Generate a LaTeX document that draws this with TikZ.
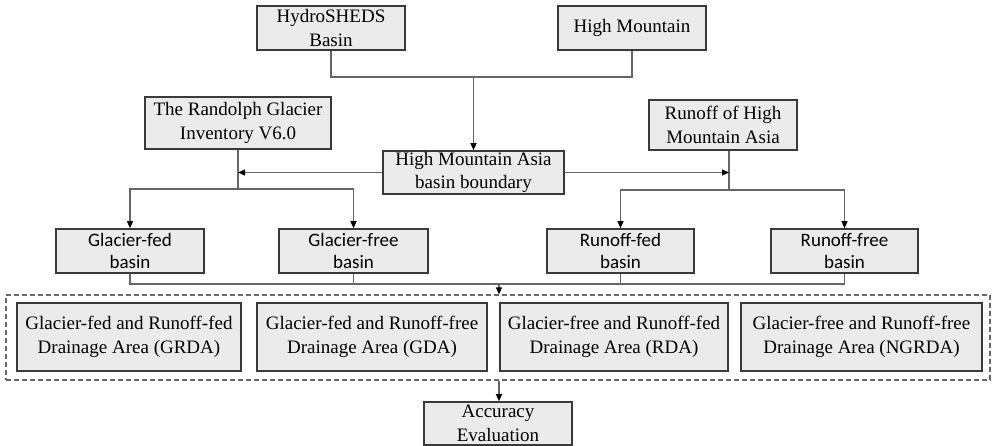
\documentclass[tikz,border=0pt]{standalone}
\usepackage{fontspec}
\setmainfont{Liberation Serif}
\newfontfamily\calib{Carlito}
\usetikzlibrary{arrows.meta,calc}
\definecolor{boxfill}{HTML}{EBEBEB}
\definecolor{boxline}{HTML}{3A3A3A}
\definecolor{conline}{HTML}{666666}
\begin{document}
\begin{tikzpicture}[x=1pt,y=-1pt,
  box/.style={draw=boxline,fill=boxfill,line width=1.6pt,inner sep=0pt,align=center,
     font=\fontsize{19}{23.5}\selectfont},
  sbox/.style={box,font=\calib\fontsize{19}{22.7}\selectfont},
  con/.style={draw=conline,line width=1.3pt},
  arr/.style={con,-{Triangle[length=7pt,width=6pt,fill=black,color=black]}},
  dbox/.style={draw=conline,line width=1.3pt,dash pattern=on 5pt off 3pt,inner sep=0pt}]
\useasboundingbox[fill=white] (0,0) rectangle (992,446);

\node[box,minimum width=148pt,minimum height=44pt] (hs) at (331,28) {HydroSHEDS\\Basin};
\node[box,minimum width=148pt,minimum height=44pt] (hm) at (632,28) {High Mountain};
\node[box,minimum width=186pt,minimum height=52pt] (rgi) at (238,123) {The Randolph Glacier\\Inventory V6.0};
\node[box,minimum width=181pt,minimum height=43pt] (hma) at (473.5,172.5) {High Mountain Asia\\basin boundary};
\node[box,minimum width=148pt,minimum height=50pt] (roh) at (723,125) {Runoff of High\\Mountain Asia};

\node[sbox,minimum width=148pt,minimum height=44pt] (gf) at (130,251) {Glacier-fed\\basin};
\node[sbox,minimum width=149pt,minimum height=44pt] (gfr) at (353.5,251) {Glacier-free\\basin};
\node[sbox,minimum width=147pt,minimum height=44pt] (rf) at (620.5,251) {Runoff-fed\\basin};
\node[sbox,minimum width=147pt,minimum height=44pt] (rfr) at (844.5,251) {Runoff-free\\basin};

\node[dbox,minimum width=984pt,minimum height=85pt] (dash) at (498,337.5) {};
\node[box,minimum width=224pt,minimum height=68pt] (grda) at (129,337) {Glacier-fed and Runoff-fed\\Drainage Area (GRDA)};
\node[box,minimum width=230pt,minimum height=68pt] (gda) at (372,337) {Glacier-fed and Runoff-free\\Drainage Area (GDA)};
\node[box,minimum width=228pt,minimum height=68pt] (rda) at (614,337) {Glacier-free and Runoff-fed\\Drainage Area (RDA)};
\node[box,minimum width=241pt,minimum height=68pt] (ngrda) at (861.5,337) {Glacier-free and Runoff-free\\Drainage Area (NGRDA)};

\node[box,minimum width=148pt,minimum height=43pt] (acc) at (498,423.5) {Accuracy\\Evaluation};

% coordinates
\coordinate (top) at (473.5,77);
\coordinate (lj) at (238,189);
\coordinate (rj) at (729,190);
\coordinate (bj) at (499,284);

% top merge
\draw[con] (hs.south) |- (top) -| (hm.south);
\draw[arr] (top) -- (hma.north);

% left branch
\draw[con] (rgi.south) -- (lj);
\draw[arr] (hma.west) -- (hma.west -| rgi.south);
\draw[arr] (lj) -| (gf.north);
\draw[arr] (lj) -| (gfr.north);

% right branch
\draw[con] (roh.south -| rj) -- (rj);
\draw[arr] (hma.east) -- (hma.east -| rj);
\draw[arr] (rj) -| (rf.north);
\draw[arr] (rj) -| (rfr.north);

% bottom merge
\draw[con] (gf.south) |- (bj);
\draw[con] (rfr.south) |- (bj);
\draw[con] (gfr.south) -- (gfr.south |- bj);
\draw[con] (rf.south) -- (rf.south |- bj);
\draw[arr] (bj) -- (dash.north -| bj);

\draw[arr] (dash.south -| bj) -- (acc.north -| bj);
\end{tikzpicture}
\end{document}
